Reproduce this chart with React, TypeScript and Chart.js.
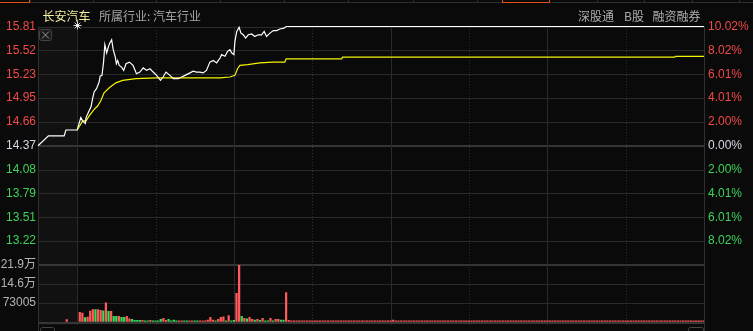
import React, { useEffect, useRef } from 'react';
import { Chart, registerables } from 'chart.js';

Chart.register(...registerables);

// ---------- data ----------
const stockName = '长安汽车';
const industryLabel = '所属行业: 汽车行业';
const topRightTags = ['深股通', 'B股', '融资融券'];

const prevClose = 14.37;
const priceMin = 12.93;
const priceMax = 15.81;
const priceTickValues = [13.218, 13.506, 13.794, 14.082, 14.37, 14.658, 14.946, 15.234, 15.522, 15.81];
const priceTickLabels = ['13.22', '13.51', '13.79', '14.08', '14.37', '14.66', '14.95', '15.23', '15.52', '15.81'];
const pctTickLabels = ['8.02%', '6.01%', '4.01%', '2.00%', '0.00%', '2.00%', '4.01%', '6.01%', '8.02%', '10.02%'];

const volMax = 219015;
const volTickValues = [73005, 146010, 219015];
const volTickLabels = ['73005', '14.6万', '21.9万'];

// minutes from 09:30 (negative = call auction 09:15-09:30)
const sessionStart = -15;
const sessionEnd = 240;
const solidGridMinutes = [0, 60, 120, 180];
const dottedGridMinutes = [30, 90, 150, 210];

const priceMinutes = [-15, -11, -5, -4.3, 0, 1.4, 2.1, 3.1, 3.4, 4.4, 5.3, 5.9, 6.5, 7.4, 8.4,
  8.8, 9.5, 10.1, 10.6, 11.3, 12.0, 12.5, 13.2, 13.8, 14.6, 15.0, 15.5, 16.1, 17.0, 17.8, 18.7,
  20.0, 21.4, 22.7, 24.0, 25.3, 26.6, 27.9, 29.1, 30.4, 31.9, 32.9, 34.0, 35.5, 36.8, 38.7, 40.0,
  41.3, 43.2, 44.4, 45.7, 47.0, 48.2, 49.5, 50.8, 52.1, 53.4, 54.7, 55.3, 56.6, 57.6, 58.5, 59.2,
  60.0, 60.4, 61.1, 62.0, 62.7, 63.6, 64.5, 65.5, 66.8, 68.0, 69.3, 70.6, 71.6, 72.5, 73.8, 75.1,
  76.4, 77.6, 79.2, 80.0, 240];
const priceValues = [14.37, 14.49, 14.49, 14.56, 14.56, 14.71, 14.67, 14.64, 14.71, 14.78, 14.84, 14.94, 15.02, 15.06, 15.14,
  15.21, 15.22, 15.38, 15.59, 15.49, 15.57, 15.61, 15.65, 15.53, 15.44, 15.36, 15.40, 15.34, 15.32, 15.28, 15.36,
  15.38, 15.34, 15.24, 15.26, 15.31, 15.28, 15.30, 15.26, 15.22, 15.16, 15.20, 15.26, 15.22, 15.18, 15.18, 15.20,
  15.22, 15.25, 15.27, 15.26, 15.26, 15.25, 15.28, 15.38, 15.40, 15.37, 15.43, 15.47, 15.45, 15.51, 15.53, 15.49,
  15.47, 15.63, 15.75, 15.80, 15.73, 15.71, 15.67, 15.71, 15.72, 15.69, 15.71, 15.71, 15.75, 15.69, 15.73, 15.76,
  15.76, 15.78, 15.79, 15.81, 15.81];

const avgMinutes = [0, 0.6, 2.1, 3.4, 4.6, 6.5, 7.8, 9.0, 10.3, 12.3, 14.8, 17.4, 22.5, 30.5, 50.8, 54.6,
  58.5, 60.4, 61.4, 62.3, 65.3, 69.9, 74.9, 79.5, 80.0, 101.3, 101.6, 228.8, 229.1, 240];
const avgValues = [14.56, 14.59, 14.67, 14.67, 14.73, 14.81, 14.85, 14.91, 15.01, 15.07, 15.13, 15.16, 15.18, 15.19, 15.19, 15.19,
  15.20, 15.22, 15.30, 15.34, 15.35, 15.37, 15.38, 15.38, 15.42, 15.42, 15.44, 15.44, 15.45, 15.45];

const auctionVolMinute = -4;
const auctionVolume = 8500;

// one bar per minute, bar k sits at minute k+1
const volumes = [
  36500, 34000, 16000, 18000, 41000, 47000, 47000, 47000, 44000, 42000,
  73000, 40000, 40000, 21000, 21000, 21000, 17000, 17000, 21000, 11000,
  10000, 6000, 6000, 6000, 6000, 4000, 4000, 6000, 4000, 4000,
  4000, 10000, 13000, 6000, 10000, 4000, 7000, 4000, 4000, 4000,
  4000, 4000, 4000, 4000, 4000, 4000, 4000, 4000, 4000, 7000,
  17000, 7000, 4000, 10000, 17000, 19000, 4000, 24000, 4000, 6000,
  110000, 219000, 21000, 13000, 11000, 17000, 10000, 7000, 10000, 6000,
  13000, 4000, 4000, 13000, 4000, 10000, 10000, 7000, 7000, 113000,
  6000,
  3700, 3700, 3700, 3700, 3700, 3700, 3700, 3700, 3700, 3700, 3700, 3700, 3700, 3700, 3700, 3700, 3700, 3700, 3700, 3700,
  3700, 3700, 3700, 3700, 3700, 3700, 3700, 3700, 3700, 3700, 3700, 3700, 3700, 3700, 3700, 3700, 3700, 3700, 3700, 7000,
  3700, 3700, 3700, 3700, 3700, 3700, 3700, 3700, 3700, 3700, 3700, 3700, 3700, 3700, 3700, 3700, 3700, 3700, 3700, 3700,
  3700, 3700, 3700, 3700, 3700, 3700, 3700, 3700, 3700, 3700, 3700, 3700, 3700, 3700, 3700, 3700, 3700, 3700, 3700, 3700,
  3700, 3700, 3700, 3700, 3700, 3700, 3700, 3700, 3700, 3700, 3700, 3700, 3700, 3700, 3700, 3700, 3700, 3700, 3700, 3700,
  3700, 3700, 3700, 3700, 3700, 3700, 3700, 3700, 3700, 3700, 3700, 3700, 3700, 3700, 3700, 3700, 3700, 3700, 3700, 3700,
  3700, 3700, 3700, 3700, 3700, 3700, 3700, 3700, 3700, 3700, 3700, 3700, 3700, 3700, 3700, 3700, 3700, 3700, 3700, 3700,
  3700, 3700, 3700, 3700, 3700, 3700, 3700, 3700, 3700, 3700, 3700, 3700, 3700, 3700, 3700, 3700, 3700, 3700, 3700,
];
// 1 = up (red), 0 = down (green)
const volumeUp =
  '1101110110' + '1010010011' + '0000100100' + '0011000011' + '0011001111' +
  '1101110100' + '1101011010' + '1001011001' + '1' +
  '11111111111111111111' + '11111111111111111111' + '11111111111111111111' + '11111111111111111111' +
  '11111111111111111111' + '11111111111111111111' + '11111111111111111111' + '1111111111111111111';

// ---------- styles ----------
const W = 753;
const H = 331;
const AXIS_LEFT_W = 38;
const AXIS_RIGHT_W = 49;
const PRICE_TOP = 26.5;
const PRICE_BOTTOM = 265;
const VOL_BOTTOM = 325;
const FONT = 'Arial, "Liberation Sans", "Noto Sans CJK SC", sans-serif';
const CJK = '"Noto Sans CJK SC", "Noto Sans CJK JP", sans-serif';
const RED = '#f24a4a';
const GREEN = '#3ed35c';
const NEUTRAL = '#d6d8e4';
const BAR_RED = '#ff5a5a';
const BAR_GREEN = '#38dc5a';
const GRID = '#2a2a2a';
const GRID_BOLD = '#363636';

function labelColor(v: number) {
  if (Math.abs(v - prevClose) < 0.001) return NEUTRAL;
  return v > prevClose ? RED : GREEN;
}

const pricePlugin = {
  id: 'priceDecor',
  beforeDraw(chart: any) {
    const { ctx, chartArea: a } = chart;
    const xs = chart.scales.x;
    const ys = chart.scales.y;
    ctx.save();
    ctx.fillStyle = '#0a0a0a';
    ctx.fillRect(0, 0, chart.width, chart.height);
    // auction band
    const xa = xs.getPixelForValue(sessionStart);
    const xb = xs.getPixelForValue(0);
    ctx.fillStyle = '#111111';
    ctx.fillRect(xa, a.top, xb - xa, VOL_BOTTOM - a.top);
    // top tab strip
    ctx.fillStyle = '#2e2e2e';
    ctx.fillRect(0, 2, W, 1);
    [30, 93, 156, 220, 284, 348, 413, 477, 597, 644, 692, 739].forEach((x) => ctx.fillRect(x, 0, 1, 3));
    ctx.fillStyle = '#e0501a';
    ctx.fillRect(0, 2, 30, 1);
    ctx.fillRect(29, 0, 1, 3);
    ctx.fillRect(502, 2, 48, 1);
    ctx.fillRect(502, 0, 1, 3);
    ctx.fillRect(549, 0, 1, 3);
    // horizontal price grid
    priceTickValues.forEach((v) => {
      const y = Math.round(ys.getPixelForValue(v));
      if (Math.abs(v - prevClose) < 0.001) {
        ctx.fillStyle = GRID_BOLD;
        ctx.fillRect(a.left, y - 1, a.right - a.left, 2);
      } else {
        ctx.fillStyle = GRID;
        ctx.fillRect(a.left, y, a.right - a.left, 1);
      }
    });
    ctx.fillStyle = GRID_BOLD;
    ctx.fillRect(a.left, Math.round(a.bottom) - 1, a.right - a.left, 2);
    // vertical grid
    solidGridMinutes.forEach((m) => {
      const x = Math.round(xs.getPixelForValue(m));
      ctx.fillStyle = GRID;
      ctx.fillRect(x, a.top, 1, VOL_BOTTOM - a.top);
    });
    dottedGridMinutes.forEach((m) => {
      const x = Math.round(xs.getPixelForValue(m));
      ctx.fillStyle = '#2c2c2c';
      for (let y = Math.round(a.top); y < VOL_BOTTOM; y += 3) ctx.fillRect(x, y, 1, 1);
    });
    ctx.fillStyle = '#303030';
    ctx.fillRect(Math.round(xs.getPixelForValue(sessionStart)), a.top, 1, H - a.top);
    ctx.fillRect(Math.round(xs.getPixelForValue(sessionEnd)), a.top, 1, H - a.top);
    ctx.restore();
  },
  afterDraw(chart: any) {
    const { ctx, chartArea: a } = chart;
    const xs = chart.scales.x;
    ctx.save();
    ctx.textBaseline = 'middle';
    ctx.font = `12px ${CJK}`;
    ctx.fillStyle = '#f6f2a2';
    ctx.fillText(stockName, 42.5, 16);
    ctx.fillStyle = '#a6a6a6';
    ctx.fillText(industryLabel, 99, 16);
    ctx.fillStyle = '#adadad';
    const tagX = [578, 624, 652.5];
    topRightTags.forEach((t, i) => ctx.fillText(t, tagX[i], 16));
    // X close box
    const bx = a.left + 1.5;
    const by = 29.5;
    ctx.fillStyle = '#1a1a1a';
    ctx.strokeStyle = '#444';
    ctx.lineWidth = 1;
    ctx.beginPath();
    ctx.roundRect(bx, by, 12, 11, 2);
    ctx.fill();
    ctx.stroke();
    ctx.strokeStyle = '#999';
    ctx.beginPath();
    ctx.moveTo(bx + 2.5, by + 2);
    ctx.lineTo(bx + 9.5, by + 9);
    ctx.moveTo(bx + 9.5, by + 2);
    ctx.lineTo(bx + 2.5, by + 9);
    ctx.stroke();
    // open marker star
    const sx = Math.round(xs.getPixelForValue(0)) + 0.5;
    const sy = 25.5;
    ctx.strokeStyle = '#d8d8d8';
    ctx.beginPath();
    for (let k = 0; k < 4; k++) {
      const ang = (k * Math.PI) / 4;
      ctx.moveTo(sx - Math.cos(ang) * 4, sy - Math.sin(ang) * 4);
      ctx.lineTo(sx + Math.cos(ang) * 4, sy + Math.sin(ang) * 4);
    }
    ctx.stroke();
    ctx.fillStyle = '#eeeeee';
    ctx.fillRect(sx - 1.5, sy - 1.5, 3, 3);
    // bottom widgets
    ctx.strokeStyle = '#444';
    ctx.beginPath();
    ctx.roundRect(40.5, 327.5, 14, 8, 2);
    ctx.roundRect(688.5, 327.5, 15, 8, 2);
    ctx.stroke();
    ctx.restore();
  },
};

const volPlugin = {
  id: 'volDecor',
  beforeDatasetsDraw(chart: any) {
    const { ctx, chartArea: a } = chart;
    const ys = chart.scales.y;
    ctx.save();
    volTickValues.slice(0, 2).forEach((v) => {
      const y = Math.round(ys.getPixelForValue(v));
      ctx.fillStyle = GRID;
      ctx.fillRect(a.left, y, a.right - a.left, 1);
    });
    ctx.fillStyle = GRID_BOLD;
    ctx.fillRect(a.left, Math.round(a.bottom), a.right - a.left, 2);
    ctx.restore();
  },
};

export default function App() {
  const priceRef = useRef<HTMLCanvasElement>(null);
  const volRef = useRef<HTMLCanvasElement>(null);

  useEffect(() => {
    const priceChart = new Chart(priceRef.current as HTMLCanvasElement, {
      type: 'line',
      data: {
        datasets: [
          {
            data: priceMinutes.map((m, i) => ({ x: m, y: priceValues[i] })),
            borderColor: '#ffffff',
            borderWidth: 1.2,
            pointRadius: 0,
            tension: 0,
            yAxisID: 'y',
            clip: false as any,
          },
          {
            data: avgMinutes.map((m, i) => ({ x: m, y: avgValues[i] })),
            borderColor: '#f4f400',
            borderWidth: 1.2,
            pointRadius: 0,
            tension: 0,
            yAxisID: 'y',
            clip: false as any,
          },
        ],
      },
      options: {
        animation: false,
        responsive: false,
        maintainAspectRatio: false,
        devicePixelRatio: 1,
        events: [],
        layout: { padding: { top: PRICE_TOP, bottom: H - PRICE_BOTTOM, left: 0, right: 0 } },
        plugins: { legend: { display: false }, tooltip: { enabled: false } },
        scales: {
          x: { type: 'linear', min: sessionStart, max: sessionEnd, display: false },
          y: {
            type: 'linear',
            position: 'left',
            min: priceMin,
            max: priceMax,
            afterBuildTicks: (s: any) => {
              s.ticks = priceTickValues.map((v) => ({ value: v }));
            },
            afterFit: (s: any) => {
              s.width = AXIS_LEFT_W;
            },
            grid: { display: false, drawTicks: false },
            border: { display: false },
            ticks: {
              autoSkip: false,
              padding: 2,
              font: { family: FONT, size: 12 },
              color: (c: any) => labelColor(c.tick.value),
              callback: (_v: any, i: number) => priceTickLabels[i],
            },
          },
          pct: {
            type: 'linear',
            position: 'right',
            min: priceMin,
            max: priceMax,
            afterBuildTicks: (s: any) => {
              s.ticks = priceTickValues.map((v) => ({ value: v }));
            },
            afterFit: (s: any) => {
              s.width = AXIS_RIGHT_W;
            },
            grid: { display: false, drawTicks: false },
            border: { display: false },
            ticks: {
              autoSkip: false,
              padding: 4,
              font: { family: FONT, size: 12 },
              color: (c: any) => labelColor(c.tick.value),
              callback: (_v: any, i: number) => pctTickLabels[i],
            },
          },
        },
      } as any,
      plugins: [pricePlugin],
    });

    const volData = [{ x: auctionVolMinute, y: auctionVolume }].concat(
      volumes.map((v, k) => ({ x: k + 1, y: v }))
    );
    const volColors = [BAR_RED].concat(volumes.map((_v, k) => (volumeUp[k] === '1' ? BAR_RED : BAR_GREEN)));

    const volChart = new Chart(volRef.current as HTMLCanvasElement, {
      type: 'bar',
      data: {
        datasets: [
          {
            data: volData as any,
            backgroundColor: volColors,
            barThickness: 1.6,
            borderWidth: 0,
          },
        ],
      },
      options: {
        animation: false,
        responsive: false,
        maintainAspectRatio: false,
        devicePixelRatio: 1,
        events: [],
        layout: { padding: { top: PRICE_BOTTOM, bottom: H - VOL_BOTTOM, left: 0, right: AXIS_RIGHT_W } },
        plugins: { legend: { display: false }, tooltip: { enabled: false } },
        scales: {
          x: { type: 'linear', min: sessionStart, max: sessionEnd, offset: false, display: false },
          y: {
            type: 'linear',
            position: 'left',
            min: 0,
            max: volMax,
            afterBuildTicks: (s: any) => {
              s.ticks = volTickValues.map((v) => ({ value: v }));
            },
            afterFit: (s: any) => {
              s.width = AXIS_LEFT_W;
            },
            grid: { display: false, drawTicks: false },
            border: { display: false },
            ticks: {
              autoSkip: false,
              padding: 2,
              font: { family: FONT, size: 12 },
              color: '#b4b4b4',
              callback: (_v: any, i: number) => volTickLabels[i],
            },
          },
        },
      } as any,
      plugins: [volPlugin],
    });

    return () => {
      priceChart.destroy();
      volChart.destroy();
    };
  }, []);

  return (
    <div style={{ position: 'fixed', left: 0, top: 0, width: W, height: H, background: '#0a0a0a', overflow: 'hidden' }}>
      <canvas ref={priceRef} width={W} height={H} style={{ position: 'absolute', left: 0, top: 0, width: W, height: H }} />
      <canvas ref={volRef} width={W} height={H} style={{ position: 'absolute', left: 0, top: 0, width: W, height: H }} />
    </div>
  );
}
